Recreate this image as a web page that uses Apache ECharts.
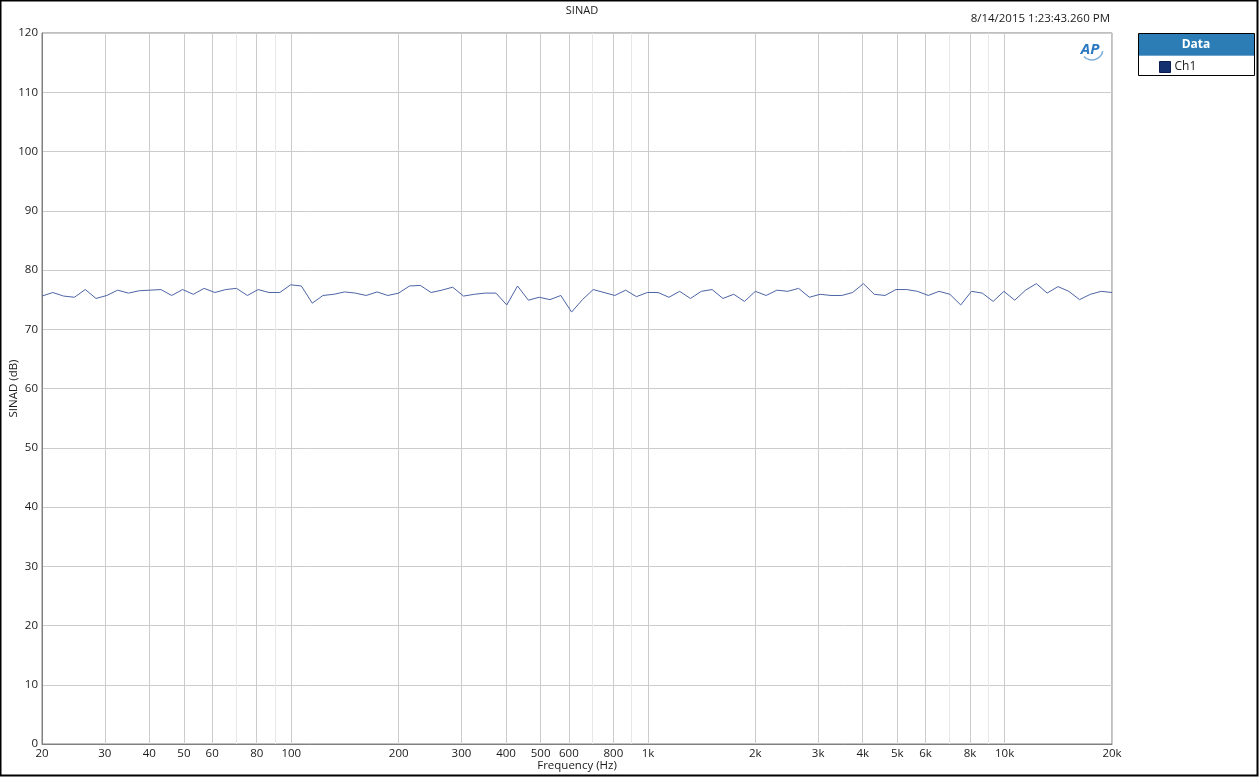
<!DOCTYPE html>
<html>
<head>
<meta charset="utf-8">
<script src="https://cdn.jsdelivr.net/npm/echarts@6/dist/echarts.min.js"></script>
<style>
html,body{margin:0;padding:0;background:#fff;}
#chart{width:1259px;height:777px;}
</style>
</head>
<body>
<div id="chart"></div>
<script>
// Sweep frequencies (Hz), 100 log-spaced points from 20 Hz to 20 kHz
const freqHz = [
  20.00, 21.45, 22.99, 24.66, 26.44, 28.35, 30.40, 32.60, 34.95, 37.48,
  40.19, 43.09, 46.21, 49.55, 53.13, 56.97, 61.08, 65.50, 70.23, 75.31,
  80.75, 86.58, 92.84, 99.55, 106.7, 114.5, 122.7, 131.6, 141.1, 151.3,
  162.2, 174.0, 186.5, 200.0, 214.5, 229.9, 246.6, 264.4, 283.5, 304.0,
  326.0, 349.5, 374.8, 401.9, 430.9, 462.1, 495.5, 531.3, 569.7, 610.8,
  655.0, 702.3, 753.1, 807.5, 865.8, 928.4, 995.5, 1067, 1145, 1227,
  1316, 1411, 1513, 1622, 1740, 1865, 2000, 2145, 2299, 2466,
  2644, 2835, 3040, 3260, 3495, 3748, 4019, 4309, 4621, 4955,
  5313, 5697, 6108, 6550, 7023, 7531, 8075, 8658, 9284, 9955,
  10675, 11446, 12273, 13160, 14111, 15131, 16224, 17397, 18654, 20000
];
// SINAD (dB), Ch1
const sinadCh1 = [
  75.6, 76.2, 75.6, 75.4, 76.7, 75.2, 75.7, 76.6, 76.1, 76.5,
  76.6, 76.7, 75.7, 76.7, 75.9, 76.9, 76.2, 76.7, 76.9, 75.7,
  76.7, 76.2, 76.2, 77.5, 77.3, 74.4, 75.7, 75.9, 76.3, 76.1,
  75.7, 76.3, 75.7, 76.1, 77.3, 77.4, 76.2, 76.6, 77.1, 75.6,
  75.9, 76.1, 76.1, 74.1, 77.3, 74.9, 75.4, 75.0, 75.7, 72.9,
  75.0, 76.7, 76.2, 75.7, 76.6, 75.5, 76.2, 76.2, 75.4, 76.4,
  75.2, 76.4, 76.7, 75.2, 75.9, 74.7, 76.4, 75.7, 76.6, 76.4,
  76.9, 75.4, 75.9, 75.7, 75.7, 76.2, 77.7, 75.9, 75.7, 76.7,
  76.7, 76.4, 75.7, 76.4, 75.9, 74.1, 76.4, 76.1, 74.7, 76.4,
  74.9, 76.6, 77.7, 76.1, 77.2, 76.4, 75.0, 75.9, 76.4, 76.2
];
// X grid frequencies and labelled ticks
const gridFreqs = [20,30,40,50,60,70,80,90,100,200,300,400,500,600,700,800,900,
  1000,2000,3000,4000,5000,6000,7000,8000,9000,10000,20000];
const labelFreqs = [20,30,40,50,60,80,100,200,300,400,500,600,800,
  1000,2000,3000,4000,5000,6000,8000,10000,20000];
const labelTexts = ['20','30','40','50','60','80','100','200','300','400','500','600','800',
  '1k','2k','3k','4k','5k','6k','8k','10k','20k'];
const yTicks = [0,10,20,30,40,50,60,70,80,90,100,110,120];

const lg = Math.log10;
const seriesData = freqHz.map((f, i) => [lg(f), sinadCh1[i]]);
const labelMap = {};
labelFreqs.forEach((f, i) => { labelMap[lg(f).toFixed(5)] = labelTexts[i]; });

const FONT = 'Open Sans';
const TXT = '#1a1a1a';
const chart = echarts.init(document.getElementById('chart'), null, {renderer: 'canvas'});
chart.setOption({
  backgroundColor: '#ffffff',
  animation: false,
  textStyle: {fontFamily: FONT},
  title: {
    text: 'SINAD',
    left: 577, top: 0, textAlign: 'center',
    textStyle: {fontSize: 11, fontWeight: 'normal', color: TXT, fontFamily: FONT}
  },
  grid: {
    left: 42, right: 147, top: 33, bottom: 33,
    outerBoundsMode: 'none',
    show: true, borderColor: '#808080', borderWidth: 1, backgroundColor: '#ffffff',
    containLabel: false
  },
  legend: {
    show: true,
    left: 1159, top: 61, z: 30, padding: 0,
    itemWidth: 11, itemHeight: 11, itemGap: 4,
    icon: 'rect',
    textStyle: {fontSize: 12, color: TXT, fontFamily: FONT, padding: [0,0,0,-1]},
    data: [{name: 'Ch1', itemStyle: {color: '#14306e', borderColor: '#0b1e4d', borderWidth: 1}}],
    selectedMode: false
  },
  xAxis: {
    type: 'value',
    min: lg(20), max: lg(20000),
    name: 'Frequency (Hz)', nameLocation: 'middle', nameGap: 16, nameMoveOverlap: false,
    nameTextStyle: {fontSize: 11.5, color: TXT, fontFamily: FONT},
    axisLine: {show: true, lineStyle: {color: '#808080', width: 1}},
    axisTick: {show: false, customValues: gridFreqs.map(lg)},
    axisLabel: {
      customValues: labelFreqs.map(lg),
      formatter: v => labelMap[v.toFixed(5)] || '',
      fontSize: 11.5, color: TXT, margin: 4, fontFamily: FONT,
      showMinLabel: true, showMaxLabel: true
    },
    splitLine: {
      show: true,
      lineStyle: {color: ['#cccccc','#cccccc','#cccccc','#cccccc','#cccccc','#e8e8e8','#cccccc','#e8e8e8','#cccccc'], width: 1}
    }
  },
  yAxis: {
    type: 'value',
    min: 0, max: 120, interval: 10,
    name: 'SINAD (dB)', nameLocation: 'middle', nameGap: 22, nameRotate: 90, nameMoveOverlap: false,
    nameTextStyle: {fontSize: 11.5, color: TXT, fontFamily: FONT},
    axisLine: {show: true, lineStyle: {color: '#808080', width: 1}},
    axisTick: {show: false},
    axisLabel: {
      fontSize: 11.5, color: TXT, margin: 4, fontFamily: FONT,
      formatter: v => yTicks.includes(v) ? String(v) : ''
    },
    splitLine: {show: true, lineStyle: {color: '#cccccc', width: 1}}
  },
  series: [{
    name: 'Ch1',
    type: 'line',
    data: seriesData,
    showSymbol: false,
    symbol: 'none',
    lineStyle: {color: '#4d64a6', width: 1},
    itemStyle: {color: '#14306e'}
  }],
  graphic: [
    {type: 'rect', shape: {x: 0.5, y: 0.5, width: 1257, height: 775}, style: {fill: null, stroke: '#000', lineWidth: 2}, silent: true},
    {type: 'text', right: 149, top: 13, style: {text: '8/14/2015 1:23:43.260 PM', fontSize: 11.5, fill: TXT, fontFamily: FONT}},
    {type: 'rect', shape: {x: 1138.5, y: 33.5, width: 116, height: 42}, style: {fill: '#ffffff', stroke: '#000', lineWidth: 1}, z: 10},
    {type: 'rect', shape: {x: 1139, y: 34, width: 115, height: 21}, style: {fill: '#2c7db6', stroke: null}, z: 11},
    {type: 'line', shape: {x1: 1139, y1: 55.5, x2: 1254, y2: 55.5}, style: {stroke: '#6fa3cc', lineWidth: 1}, z: 11},
    {type: 'text', x: 1196, y: 45, style: {text: 'Data', fontSize: 12, fontWeight: 'bold', fill: '#ffffff', align: 'center', verticalAlign: 'middle', fontFamily: FONT}, z: 12},
    {type: 'text', x: 1090, y: 50, style: {text: 'AP', fontSize: 15, fontWeight: 'bold', fontStyle: 'italic', fill: '#2a78c0', align: 'center', verticalAlign: 'middle', fontFamily: FONT}, z: 12},
    {type: 'arc', shape: {cx: 1092, cy: 49, r: 11, startAngle: 0.2, endAngle: 2.4}, style: {stroke: '#7fb0dc', lineWidth: 1.5, fill: null}, z: 11}
  ]
});
</script>
</body>
</html>
